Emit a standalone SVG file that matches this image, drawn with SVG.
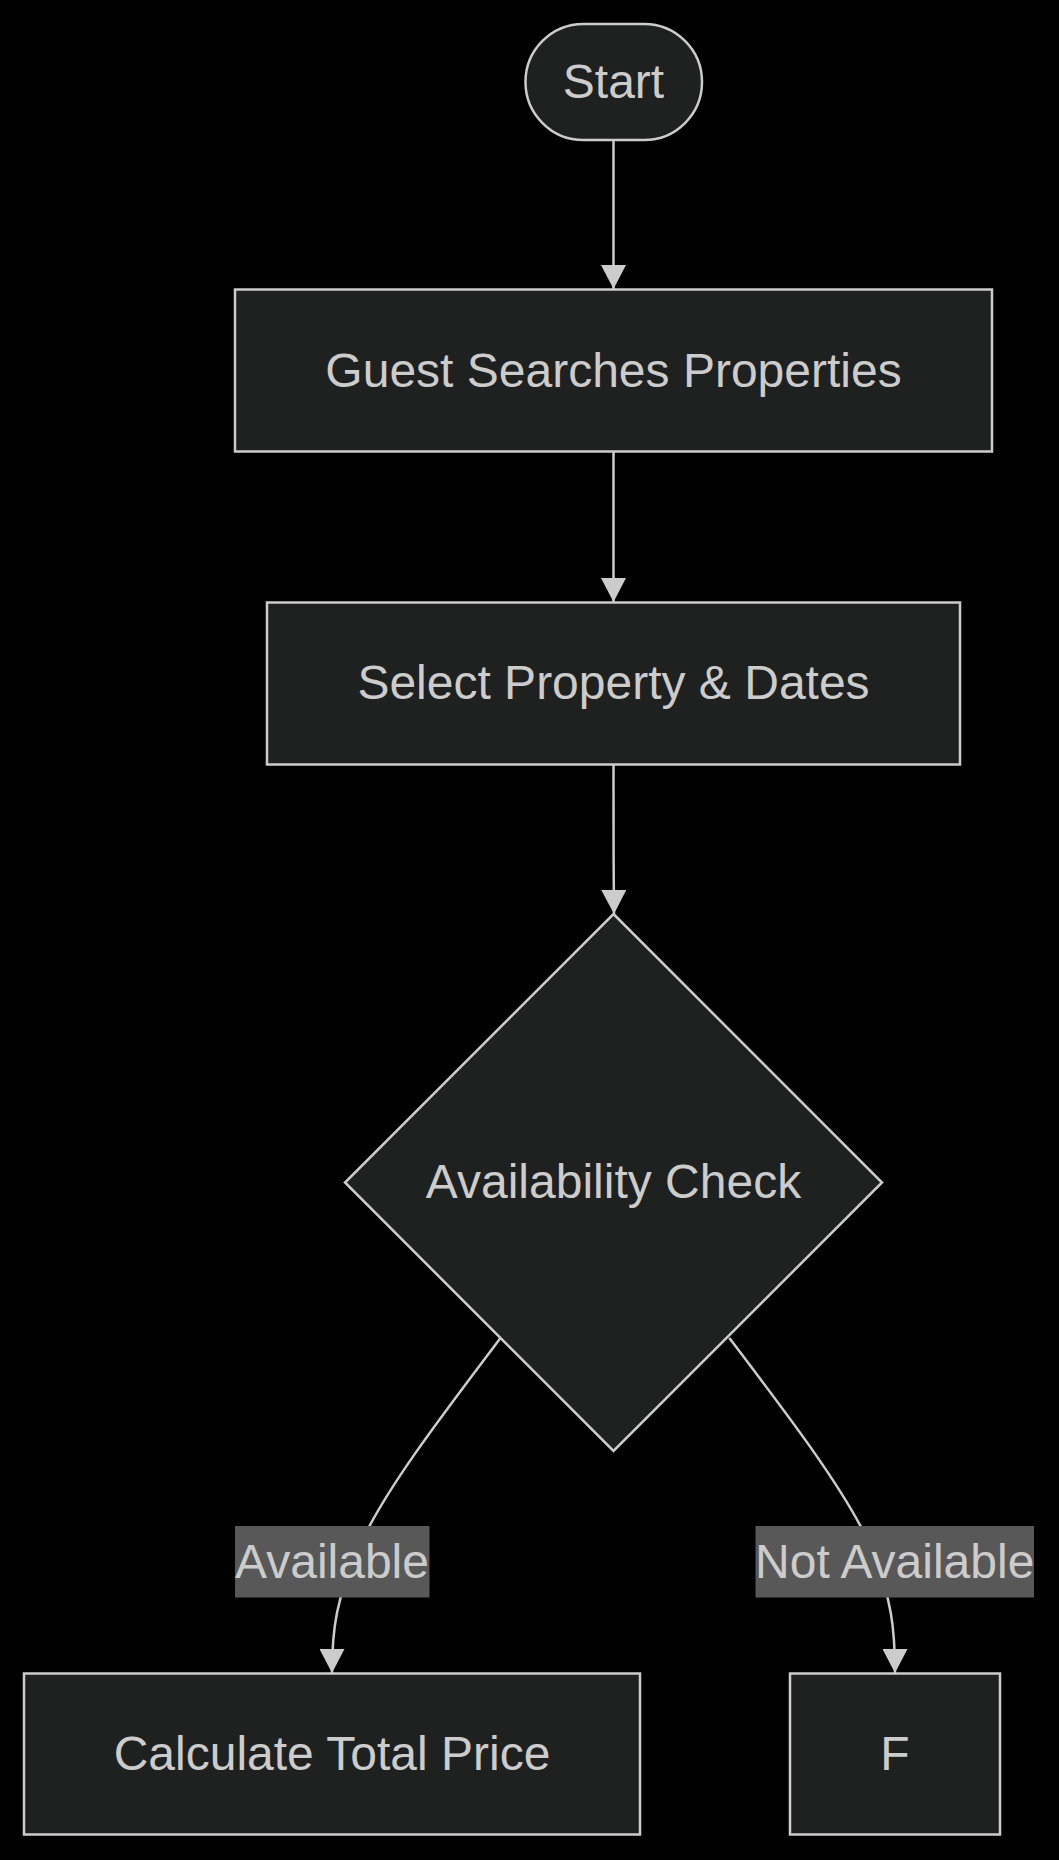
<svg xmlns="http://www.w3.org/2000/svg" width="1059" height="1860" viewBox="0 0 1059 1860">
<style>
.node{fill:#1f2020;stroke:#cccccc;stroke-width:2.5}
.lbl{font-family:"Liberation Sans",Arial,sans-serif;font-size:48px;fill:#cccccc;text-anchor:middle;dominant-baseline:central}
.edge{fill:none;stroke:#cccccc;stroke-width:2.5;marker-end:url(#arrow)}
.elbl{fill:#585858}
</style>
<defs>
<marker id="arrow" viewBox="0 0 24 25" refX="24" refY="12.5" markerWidth="24" markerHeight="25" markerUnits="userSpaceOnUse" orient="auto">
<path d="M0,0 L24,12.5 L0,25 z" fill="#cccccc"/>
</marker>
</defs>
<rect width="1059" height="1860" fill="#000000"/>
<g id="edges">
<path class="edge" d="M613.5,140 L613.5,289"/>
<path class="edge" d="M613.5,452 L613.5,602"/>
<path class="edge" d="M613.5,765 C613.5,830 613.5,860 614,914"/>
<path class="edge" d="M500.5,1338 C440,1418 385,1490 360,1545 C336,1598 332,1630 332,1673"/>
<path class="edge" d="M729.3,1338 C790,1418 845,1490 870,1545 C892,1598 895,1630 895,1673"/>
<g id="label-available">
<rect class="elbl" x="235" y="1526" width="194.5" height="71.5"/>
<text class="lbl" x="332" y="1561">Available</text>
</g>
<g id="label-notavailable">
<rect class="elbl" x="755.5" y="1526" width="278.5" height="71.5"/>
<text class="lbl" x="894.7" y="1561">Not Available</text>
</g>
</g>
<g id="start">
<rect class="node" x="525.5" y="24" width="176.5" height="116" rx="58" ry="58"/>
<text class="lbl" x="613.5" y="81">Start</text>
</g>
<g id="guest">
<rect class="node" x="235" y="289.5" width="757" height="162"/>
<text class="lbl" x="613.5" y="370">Guest Searches Properties</text>
</g>
<g id="select">
<rect class="node" x="267" y="602.5" width="693" height="162"/>
<text class="lbl" x="613.5" y="682">Select Property &amp; Dates</text>
</g>
<g id="check">
<polygon class="node" points="613.5,914 882,1182.5 613.5,1451 345,1182.5"/>
<text class="lbl" x="613.5" y="1181">Availability Check</text>
</g>
<g id="calc">
<rect class="node" x="24" y="1673.5" width="616" height="161"/>
<text class="lbl" x="332" y="1753">Calculate Total Price</text>
</g>
<g id="f">
<rect class="node" x="790" y="1673.5" width="210" height="161"/>
<text class="lbl" x="895" y="1753">F</text>
</g>
</svg>
